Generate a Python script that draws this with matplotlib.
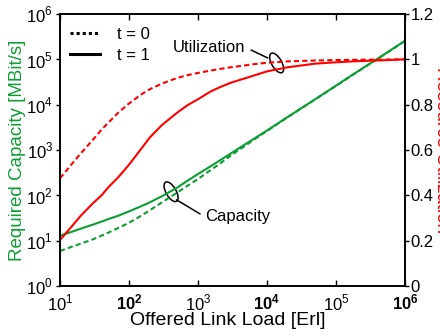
import numpy as np
import matplotlib
matplotlib.use('Agg')
import matplotlib.pyplot as plt
from matplotlib.patches import Ellipse
from matplotlib.lines import Line2D
from matplotlib.transforms import ScaledTranslation

plt.rcParams['font.family'] = ['Liberation Sans', 'DejaVu Sans']
plt.rcParams['mathtext.fontset'] = 'custom'
plt.rcParams['mathtext.rm'] = 'Liberation Sans'
plt.rcParams['mathtext.bf'] = 'Liberation Sans:bold'
plt.rcParams['font.size'] = 12

# offered link load [Erl]
load = [10, 15, 20, 30, 40, 50, 70, 100, 150, 200, 300, 500, 700, 1e3, 1.5e3, 2e3,
        3e3, 5e3, 7e3, 1e4, 2e4, 5e4, 1e5, 2e5, 5e5, 1e6]

# required capacity [MBit/s]
cap_t1 = [12.9, 15.8, 18.4, 22.6, 26.3, 29.9, 35.5, 44.2, 57.5, 70, 95.5, 148, 209, 295,
          431, 569, 841, 1380, 1905, 2690, 5370, 13180, 26300, 52480, 128800, 257000]
cap_t0 = [5.9, 7.4, 8.6, 10.7, 12.9, 15.0, 19.1, 24.8, 35.5, 46.8, 70, 115, 162, 229,
          355, 479, 759, 1288, 1841, 2630, 5310, 13030, 26000, 51900, 127400, 254100]

# resource utilization
util_t1 = [0.203, 0.265, 0.31, 0.365, 0.40, 0.435, 0.48, 0.535, 0.605, 0.655, 0.71, 0.765,
           0.797, 0.824, 0.857, 0.875, 0.897, 0.918, 0.932, 0.947, 0.965, 0.981, 0.987,
           0.992, 0.996, 1.0]
util_t0 = [0.475, 0.54, 0.585, 0.645, 0.69, 0.72, 0.765, 0.805, 0.845, 0.868, 0.893, 0.918,
           0.930, 0.940, 0.950, 0.957, 0.965, 0.974, 0.980, 0.985, 0.991, 0.995, 0.997,
           0.998, 0.999, 1.0]

x_ticks = [1e1, 1e2, 1e3, 1e4, 1e5, 1e6]
x_labels = [r'$10^{1}$', r'$\mathbf{10^{2}}$', r'$10^{3}$', r'$\mathbf{10^{4}}$', r'$10^{5}$', r'$\mathbf{10^{6}}$']
y_ticks = [1e0, 1e1, 1e2, 1e3, 1e4, 1e5, 1e6]
y_labels = [r'$10^{%d}$' % i for i in range(7)]
u_ticks = [0, 0.2, 0.4, 0.6, 0.8, 1.0, 1.2]
u_labels = ['0', '0.2', '0.4', '0.6', '0.8', '1', '1.2']

green = '#0d9e33'
red = '#ff0000'
dash = (0, (2.5, 1.5))

fig = plt.figure(figsize=(4.4, 3.36), dpi=100)
ax = fig.add_axes([60/440, 50/336, 345/440, 272/336])
ax2 = ax.twinx()

ax.plot(load, cap_t1, color=green, lw=1.5)
ax.plot(load, cap_t0, color=green, lw=1.5, linestyle=dash)
ax2.plot(load, util_t1, color=red, lw=1.5)
ax2.plot(load, util_t0, color=red, lw=1.5, linestyle=dash)

ax.set_xscale('log')
ax.set_yscale('log')
ax.set_xlim(1e1, 1e6)
ax.set_ylim(1e0, 1e6)
ax2.set_ylim(0, 1.2)

ax.set_xticks(x_ticks)
ax.set_xticklabels(x_labels)
ax.set_yticks(y_ticks)
ax.set_yticklabels(y_labels)
ax.minorticks_off()
ax2.set_yticks(u_ticks)
ax2.set_yticklabels(u_labels)

ax.tick_params(axis='x', direction='in', length=4, width=1, pad=5, top=True)
ax.tick_params(axis='y', direction='out', length=3, width=1, pad=2)
ax2.tick_params(axis='y', direction='out', length=3, width=1, pad=1)
for a in (ax, ax2):
    for s in a.spines.values():
        s.set_linewidth(1.2)

ax.set_xlabel('Offered Link Load [Erl]', fontsize=14, labelpad=0)
ax.xaxis.set_label_coords(0.487, -0.096)
ax.set_ylabel('Required Capacity [MBit/s]', color=green, fontsize=13.5)
ax.yaxis.set_label_coords(-0.0986, 0.5)
ax2.set_ylabel('Resource Utilization', color=red, fontsize=13.5, rotation=270, va='bottom')
ax2.yaxis.set_label_coords(1.081, 0.5)

# legend
handles = [Line2D([], [], color='black', lw=2.2, linestyle=(0, (1, 1))),
           Line2D([], [], color='black', lw=2.2)]
ax.legend(handles, ['t = 0', 't = 1'], loc='upper left', frameon=False,
          bbox_to_anchor=(10/345, 0.952), borderpad=0, borderaxespad=0,
          handlelength=1.8, handletextpad=1.0, labelspacing=0.35, fontsize=12)

# annotations with ellipses
def mark(axis, cx, cy):
    tr = fig.dpi_scale_trans + ScaledTranslation(cx, cy, axis.transData)
    axis.add_patch(Ellipse((0, 0), 0.10, 0.22, angle=30, fill=False,
                           edgecolor='black', lw=1.1, transform=tr, clip_on=False))

mark(ax2, 13800, 0.984)
ax2.text(10**3.68, 1.054, 'Utilization', ha='right', va='center', fontsize=12)
ax2.annotate('', xy=(10**4.01, 1.006), xytext=(10**3.77, 1.041),
             arrowprops=dict(arrowstyle='-', lw=1.1, shrinkA=0, shrinkB=0))

mark(ax, 407, 120)
ax.text(10**3.10, 10**1.54, 'Capacity', ha='left', va='center', fontsize=12)
ax.annotate('', xy=(10**3.03, 10**1.59), xytext=(10**2.69, 10**1.90),
            arrowprops=dict(arrowstyle='-', lw=1.1, shrinkA=0, shrinkB=0))

fig.savefig('out.png', dpi=100)
